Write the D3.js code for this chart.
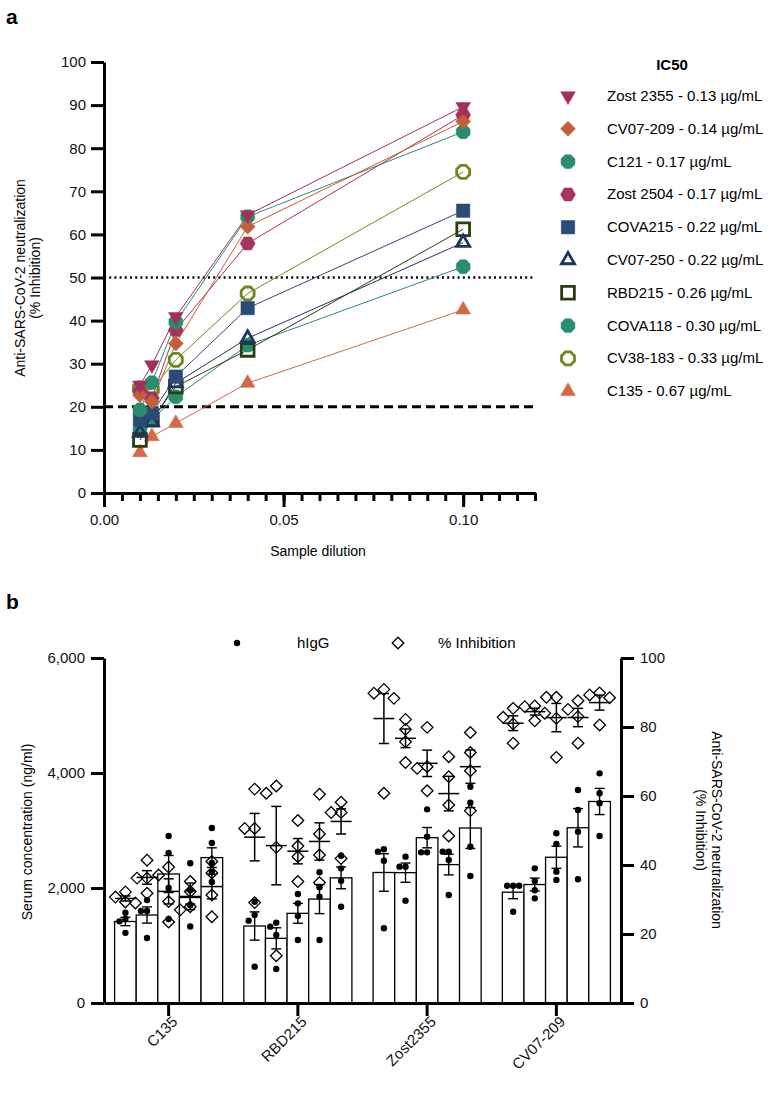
<!DOCTYPE html>
<html>
<head>
<meta charset="utf-8">
<script src="https://cdn.jsdelivr.net/npm/d3@7"></script>
<style>
  body { margin: 0; background: #fff; }
  svg { display: block; font-family: "Liberation Sans", Arial, sans-serif; }
  .axis path, .axis line { stroke: #000; stroke-width: 3; }
  .axis text { font-size: 15px; fill: #111; }
</style>
</head>
<body>
<svg id="chart" width="780" height="1094"></svg>
<script>
"use strict";

/* ---------- panel a data ---------- */
const dilutions = [1 / 100, 1 / 75, 1 / 50, 1 / 25, 1 / 10];
const antibodyNames = ["Zost 2355", "CV07-209", "C121", "Zost 2504", "COVA215",
                       "CV07-250", "RBD215", "COVA118", "CV38-183", "C135"];
const ic50Values = [0.13, 0.14, 0.17, 0.17, 0.22, 0.22, 0.26, 0.30, 0.33, 0.67];
const antibodyColors = ["#a3305a", "#c2603a", "#2a8c6e", "#a8325c", "#2b4a78",
                        "#1d3563", "#2a3d12", "#2a8c70", "#6b8a1e", "#d26a48"];
const antibodyShapes = ["triDown", "diamond", "octagon", "hexagon", "square",
                        "triOpen", "squareOpen", "octagon", "octagonOpen", "triUp"];
const inhZost2355 = [25.0, 29.7, 40.9, 64.5, 89.6];
const inhCV07209  = [22.7, 21.2, 34.7, 61.8, 86.2];
const inhC121     = [19.3, 25.6, 39.7, 64.1, 83.8];
const inhZost2504 = [23.5, 22.0, 37.8, 57.9, 87.7];
const inhCOVA215  = [17.0, 18.5, 27.0, 42.9, 65.5];
const inhCV07250  = [14.0, 16.5, 25.5, 35.9, 58.1];
const inhRBD215   = [12.3, 17.0, 24.7, 33.2, 61.2];
const inhCOVA118  = [14.5, 17.0, 22.3, 34.3, 52.5];
const inhCV38183  = [24.3, 24.0, 30.9, 46.3, 74.5];
const inhC135     = [9.4, 13.1, 16.2, 25.5, 42.5];
const inhibitionSeries = [inhZost2355, inhCV07209, inhC121, inhZost2504, inhCOVA215,
                          inhCV07250, inhRBD215, inhCOVA118, inhCV38183, inhC135];
const yTicksA = d3.range(0, 101, 10);
const xMajorTicksA = [0, 0.05, 0.10];
const refLevels = [50, 20];

/* ---------- panel b data ---------- */
const groups = ["C135", "RBD215", "Zost2355", "CV07-209"];
const hIgGC135 = [[1570, 1460, 1420, 1220], [1790, 1600, 1600, 1130], [2904, 2609, 2000, 1460],
                  [2430, 1960, 1700, 1330], [3043, 2783, 2435, 2278, 2104]];
const hIgGRBD215 = [[1762, 1530, 1432, 632], [1397, 1328, 1183, 591], [1895, 1733, 1513, 1096],
                    [2273, 2012, 1849, 1096], [2562, 2342, 2127, 1675]];
const hIgGZost2355 = [[2673, 2632, 2475, 1299], [2545, 2371, 2371, 1780], [3368, 2893, 2620, 2620],
                      [2632, 2632, 2487, 1878], [3762, 3483, 2718, 2209]];
const hIgGCV07209 = [[2040, 2040, 2040, 1588], [2342, 2120, 1960, 1820], [2951, 2765, 2284, 2139],
                     [3704, 3357, 2980, 2151], [3994, 3647, 3473, 2904]];
const pctC135 = [[32.2, 30.7, 29.3, 29.0], [41.4, 36.2, 36.2, 31.8], [39.4, 37.1, 29.4, 23.5],
                 [35.2, 32.3, 27.9, 27.0], [41.0, 37.7, 31.3, 25.0]];
const pctRBD215 = [[62.0, 50.6, 50.6, 29.1], [62.9, 60.8, 45.1, 13.7], [52.9, 45.5, 42.4, 35.2],
                   [60.5, 49.0, 42.9, 34.9], [58.2, 55.2, 55.2, 41.9]];
const pctZost2355 = [[90.9, 89.8, 88.3, 60.8], [82.2, 79.3, 75.7, 69.7], [79.9, 68.5, 68.0, 61.5],
                     [71.4, 65.6, 57.4, 48.4], [78.4, 72.6, 67.3, 55.7]];
const pctCV07209 = [[85.4, 82.8, 80.9, 75.3], [86.1, 85.9, 84.0, 81.8], [88.6, 88.6, 82.5, 71.2],
                    [87.6, 85.1, 83.0, 75.3], [89.9, 89.3, 88.5, 80.6]];
const hIgGByGroup = [hIgGC135, hIgGRBD215, hIgGZost2355, hIgGCV07209];
const pctByGroup = [pctC135, pctRBD215, pctZost2355, pctCV07209];
const leftTicksB = [0, 2000, 4000, 6000];
const rightTicksB = d3.range(0, 101, 20);

/* ---------- helpers ---------- */
const svg = d3.select("#chart");

function polygonPath(n, r, rot) {
  let pts = d3.range(n).map(function(i) {
    let a = rot + i * 2 * Math.PI / n;
    return [r * Math.cos(a), r * Math.sin(a)];
  });
  return "M" + pts.map(p => p[0].toFixed(2) + "," + p[1].toFixed(2)).join("L") + "Z";
}

/* draw a panel a marker at (x,y) */
function drawMarker(g, shape, color, x, y) {
  let open = /Open/.test(shape), d;
  if (shape === "triDown") d = polygonPath(3, 8.5, Math.PI / 2);
  else if (shape === "triUp") d = polygonPath(3, 8.5, -Math.PI / 2);
  else if (shape === "triOpen") d = polygonPath(3, 7.5, -Math.PI / 2);
  else if (shape === "diamond") d = polygonPath(4, 7.5, 0);
  else if (shape === "square") d = polygonPath(4, 9.5, Math.PI / 4);
  else if (shape === "squareOpen") d = polygonPath(4, 9, Math.PI / 4);
  else if (shape === "hexagon") d = polygonPath(6, 7.5, 0);
  else if (shape === "octagonOpen") d = polygonPath(8, 7, Math.PI / 8);
  else d = polygonPath(8, 7.5, Math.PI / 8);
  g.append("path")
      .attr("d", d)
      .attr("transform", "translate(" + x + "," + y + ")")
      .attr("fill", open ? "none" : color)
      .attr("stroke", color)
      .attr("stroke-width", open ? 2.8 : 0.5);
}

function styleAxis(g) {
  g.attr("class", "axis");
  g.selectAll("path.domain").attr("fill", "none");
}

/* ---------- panel a ---------- */
const xA = d3.scaleLinear().domain([0, 0.12]).range([104, 535]);
const yA = d3.scaleLinear().domain([0, 100]).range([493, 62]);
const panelA = svg.append("g");

panelA.append("text").attr("x", 6).attr("y", 24)
    .style("font-size", "21px").style("font-weight", "bold").text("a");

/* reference lines */
panelA.selectAll(".refline")
    .data(refLevels)
  .enter().append("line")
    .attr("class", "refline")
    .attr("x1", xA(0)).attr("x2", xA(0.12))
    .attr("y1", d => yA(d)).attr("y2", d => yA(d))
    .attr("stroke", "#000")
    .attr("stroke-width", d => d === 50 ? 2.5 : 3)
    .attr("stroke-dasharray", d => d === 50 ? "2,3.2" : "9,5");

/* series lines and markers, last legend entry drawn first */
const lineA = d3.line().x((d, i) => xA(dilutions[i])).y(d => yA(d));
const order = d3.range(antibodyNames.length).reverse();
order.forEach(function(k) {
  panelA.append("path")
      .datum(inhibitionSeries[k])
      .attr("d", lineA)
      .attr("fill", "none")
      .attr("stroke", antibodyColors[k])
      .attr("stroke-width", 1);
});
order.forEach(function(k) {
  let g = panelA.append("g");
  inhibitionSeries[k].forEach(function(v, i) {
    drawMarker(g, antibodyShapes[k], antibodyColors[k], xA(dilutions[i]), yA(v));
  });
});

/* axes */
panelA.append("g")
    .attr("transform", "translate(" + xA(0) + ",0)")
    .call(d3.axisLeft(yA).tickValues(yTicksA).tickSize(13).tickSizeOuter(0).tickPadding(5))
    .call(styleAxis);
panelA.append("g")
    .attr("transform", "translate(0," + yA(0) + ")")
    .call(d3.axisBottom(xA).tickValues(d3.range(0, 0.1201, 0.005)).tickSize(8)
        .tickSizeOuter(0).tickFormat(""))
    .call(styleAxis);
panelA.append("g")
    .attr("transform", "translate(0," + yA(0) + ")")
    .call(d3.axisBottom(xA).tickValues(xMajorTicksA).tickSize(14).tickSizeOuter(0)
        .tickPadding(7).tickFormat(d3.format(".2f")))
    .call(styleAxis);

panelA.append("text")
    .attr("x", 318).attr("y", 556)
    .attr("text-anchor", "middle")
    .style("font-size", "14px")
    .text("Sample dilution");

const yLabelA = panelA.append("text")
    .attr("transform", "translate(25,278) rotate(-90)")
    .attr("text-anchor", "middle")
    .style("font-size", "14px");
yLabelA.append("tspan").attr("x", 0).attr("dy", 0).text("Anti-SARS-CoV-2 neutralization");
yLabelA.append("tspan").attr("x", 0).attr("dy", 15).text("(% Inhibition)");

/* legend */
const legendA = panelA.append("g");
legendA.append("text")
    .attr("x", 672).attr("y", 70)
    .attr("text-anchor", "middle")
    .style("font-size", "15px").style("font-weight", "bold")
    .text("IC50");
antibodyNames.forEach(function(name, k) {
  let y = 96 + 32.8 * k;
  drawMarker(legendA, antibodyShapes[k], antibodyColors[k], 568, y);
  legendA.append("text")
      .attr("x", 607).attr("y", y + 5)
      .style("font-size", "15px")
      .text(name + " - " + ic50Values[k].toFixed(2) + " µg/mL");
});

/* ---------- panel b ---------- */
const xB = d3.scaleBand().domain(groups).range([104, 621]).paddingInner(0.164).paddingOuter(0.082);
const xSub = d3.scaleBand().domain(d3.range(5)).range([0, xB.bandwidth()]);
const yL = d3.scaleLinear().domain([0, 6000]).range([1003, 658]);
const yR = d3.scaleLinear().domain([0, 100]).range([1003, 658]);
const panelB = svg.append("g");

panelB.append("text").attr("x", 6).attr("y", 609)
    .style("font-size", "21px").style("font-weight", "bold").text("b");

function sem(arr) {
  return d3.deviation(arr) / Math.sqrt(arr.length);
}

/* spread points sideways when they would overlap */
function spread(values, scale, cx, gap) {
  let placed = [];
  return values.map(function(v) {
    let y = scale(v), offsets = [0, -gap, gap, -2 * gap, 2 * gap], x = cx;
    for (let o of offsets) {
      let hit = placed.some(p => Math.abs(p[0] - (cx + o)) < gap - 0.5 && Math.abs(p[1] - y) < gap);
      if (!hit) { x = cx + o; break; }
    }
    placed.push([x, y]);
    return [x, y];
  });
}

const barsG = panelB.append("g");
const igErrG = panelB.append("g");
const dotsG = panelB.append("g");
const diaG = panelB.append("g");
const pctErrG = panelB.append("g");

groups.forEach(function(grp, gi) {
  hIgGByGroup[gi].forEach(function(vals, bi) {
    let x0 = xB(grp) + xSub(bi), w = xSub.bandwidth(), cx = x0 + w / 2;
    let m = d3.mean(vals), s = sem(vals);
    barsG.append("rect")
        .attr("x", x0).attr("y", yL(m))
        .attr("width", w).attr("height", yL(0) - yL(m))
        .attr("fill", "#fff").attr("stroke", "#000").attr("stroke-width", 1.3);

    /* hIgG mean +/- SEM */
    igErrG.append("line").attr("x1", cx).attr("x2", cx)
        .attr("y1", yL(m - s)).attr("y2", yL(m + s));
    [m - s, m + s].forEach(function(v) {
      igErrG.append("line").attr("x1", cx - 5).attr("x2", cx + 5)
          .attr("y1", yL(v)).attr("y2", yL(v));
    });

    spread(vals, yL, cx, 6).forEach(function(p) {
      dotsG.append("circle").attr("cx", p[0]).attr("cy", p[1]).attr("r", 3.2);
    });

    /* % inhibition points and mean +/- SEM */
    let pv = pctByGroup[gi][bi], pm = d3.mean(pv), ps = sem(pv);
    spread(pv, yR, cx, 10).forEach(function(p) {
      diaG.append("path")
          .attr("d", polygonPath(4, 5.8, 0))
          .attr("transform", "translate(" + p[0] + "," + p[1] + ")");
    });
    pctErrG.append("line").attr("x1", cx).attr("x2", cx)
        .attr("y1", yR(pm - ps)).attr("y2", yR(pm + ps));
    [pm - ps, pm + ps].forEach(function(v) {
      pctErrG.append("line").attr("x1", cx - 5).attr("x2", cx + 5)
          .attr("y1", yR(v)).attr("y2", yR(v));
    });
    pctErrG.append("line").attr("x1", cx - 10.5).attr("x2", cx + 10.5)
        .attr("y1", yR(pm)).attr("y2", yR(pm));
  });
});

igErrG.selectAll("line").attr("stroke", "#000").attr("stroke-width", 1.4);
pctErrG.selectAll("line").attr("stroke", "#000").attr("stroke-width", 1.5);
dotsG.selectAll("circle").attr("fill", "#000");
diaG.selectAll("path").attr("fill", "none").attr("stroke", "#000").attr("stroke-width", 1.3);

/* axes */
panelB.append("g")
    .attr("transform", "translate(104,0)")
    .call(d3.axisLeft(yL).tickValues(leftTicksB).tickSize(13).tickSizeOuter(0)
        .tickPadding(6).tickFormat(d3.format(",")))
    .call(styleAxis);
panelB.append("g")
    .attr("transform", "translate(621,0)")
    .call(d3.axisRight(yR).tickValues(rightTicksB).tickSize(13).tickSizeOuter(0).tickPadding(6))
    .call(styleAxis);
const xAxisB = panelB.append("g")
    .attr("transform", "translate(0,1003)")
    .call(d3.axisBottom(xB).tickSize(13).tickSizeOuter(0))
    .call(styleAxis);
xAxisB.selectAll(".tick text")
    .attr("text-anchor", "end")
    .attr("transform", "translate(6,16) rotate(-45)")
    .attr("dy", "0.35em")
    .attr("y", 0);

panelB.append("text")
    .attr("transform", "translate(27,832) rotate(-90)")
    .attr("text-anchor", "middle")
    .attr("dy", "0.35em")
    .style("font-size", "14px")
    .text("Serum concentration (ng/ml)");

const yLabelB = panelB.append("text")
    .attr("transform", "translate(712,830) rotate(90)")
    .attr("text-anchor", "middle")
    .style("font-size", "14px");
yLabelB.append("tspan").attr("x", 0).attr("dy", 0).text("Anti-SARS-CoV-2 neutralization");
yLabelB.append("tspan").attr("x", 0).attr("dy", 16).text("(% Inhibition)");

/* legend b */
const legendB = panelB.append("g");
legendB.append("circle").attr("cx", 237).attr("cy", 643).attr("r", 3.2).attr("fill", "#000");
legendB.append("text").attr("x", 297).attr("y", 648).style("font-size", "15px").text("hIgG");
legendB.append("path")
    .attr("d", polygonPath(4, 5.8, 0))
    .attr("transform", "translate(398,643)")
    .attr("fill", "none").attr("stroke", "#000").attr("stroke-width", 1.3);
legendB.append("text").attr("x", 438).attr("y", 648).style("font-size", "15px").text("% Inhibition");
</script>
</body>
</html>
